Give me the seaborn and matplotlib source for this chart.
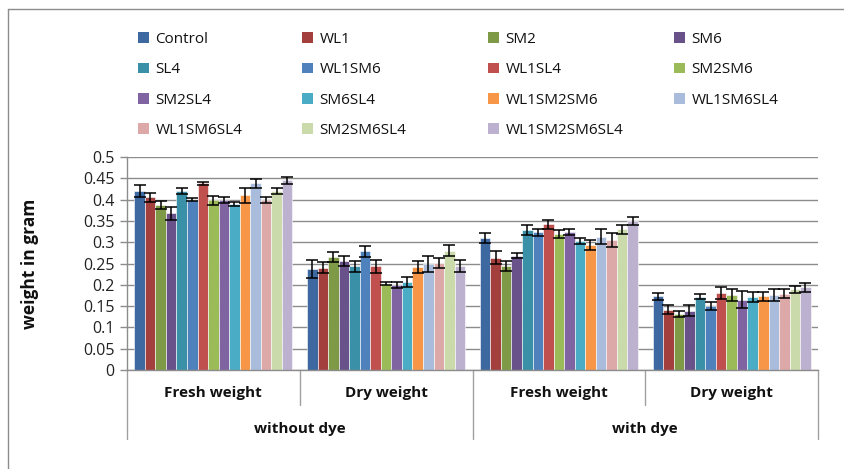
import matplotlib
matplotlib.use("Agg")
import matplotlib.pyplot as plt
from matplotlib.patches import Patch
from matplotlib.lines import Line2D
import seaborn as sns
import pandas as pd
import numpy as np

# ---------------- data ----------------
groups = ["Fresh weight\nwithout dye", "Dry weight\nwithout dye",
          "Fresh weight\nwith dye", "Dry weight\nwith dye"]
sub_labels = ["Fresh weight", "Dry weight", "Fresh weight", "Dry weight"]
outer_labels = ["without dye", "with dye"]

series_labels = ["Control", "WL1", "SM2", "SM6", "SL4", "WL1SM6", "WL1SL4",
                 "SM2SM6", "SM2SL4", "SM6SL4", "WL1SM2SM6", "WL1SM6SL4",
                 "WL1SM6SL4", "SM2SM6SL4", "WL1SM2SM6SL4"]

fresh_without = [0.420, 0.405, 0.388, 0.368, 0.420, 0.400, 0.438, 0.398,
                 0.400, 0.390, 0.410, 0.438, 0.400, 0.420, 0.445]
dry_without = [0.237, 0.240, 0.265, 0.255, 0.244, 0.279, 0.243, 0.203,
               0.200, 0.207, 0.242, 0.249, 0.252, 0.280, 0.244]
fresh_with = [0.309, 0.264, 0.244, 0.268, 0.329, 0.323, 0.342, 0.319,
              0.324, 0.303, 0.293, 0.313, 0.305, 0.330, 0.350]
dry_with = [0.173, 0.142, 0.131, 0.139, 0.172, 0.150, 0.181, 0.176,
            0.165, 0.172, 0.173, 0.176, 0.179, 0.189, 0.194]

err_fresh_without = [0.015, 0.010, 0.009, 0.015, 0.008, 0.003, 0.004, 0.010,
                     0.007, 0.005, 0.017, 0.011, 0.007, 0.008, 0.008]
err_dry_without = [0.021, 0.0125, 0.012, 0.012, 0.013, 0.013, 0.015, 0.004,
                   0.007, 0.011, 0.015, 0.018, 0.012, 0.013, 0.014]
err_fresh_with = [0.012, 0.015, 0.011, 0.006, 0.012, 0.009, 0.010, 0.010,
                  0.0075, 0.007, 0.011, 0.017, 0.017, 0.011, 0.009]
err_dry_with = [0.008, 0.010, 0.007, 0.013, 0.006, 0.010, 0.014, 0.013,
                0.020, 0.012, 0.011, 0.015, 0.011, 0.009, 0.010]

colors = ["#3E69A0", "#A3403D", "#7E9A47", "#69528A", "#3A90A7", "#4F81BD",
          "#C0504D", "#9BBB59", "#8064A2", "#4BACC6", "#F79646", "#A9BCDC",
          "#DCA9A8", "#CADAAB", "#BCB1CF"]

yticks = [0, 0.05, 0.1, 0.15, 0.2, 0.25, 0.3, 0.35, 0.4, 0.45, 0.5]
ytick_labels = ["0", "0.05", "0.1", "0.15", "0.2", "0.25", "0.3", "0.35",
                "0.4", "0.45", "0.5"]

# ---------------- build table ----------------
values = [fresh_without, dry_without, fresh_with, dry_with]
errors = [err_fresh_without, err_dry_without, err_fresh_with, err_dry_with]
keys = [f"s{i:02d}" for i in range(len(series_labels))]
rows = []
for g, vals, errs in zip(groups, values, errors):
    for k, v, e in zip(keys, vals, errs):
        rows.append({"group": g, "key": k, "value": v, "err": e})
df = pd.DataFrame(rows)

# ---------------- plot ----------------
sns.set_style("white")
plt.rcParams["font.family"] = ["Open Sans", "DejaVu Sans"]

W, H = 844, 469
fig = plt.figure(figsize=(W / 100, H / 100), dpi=100)
ax = fig.add_axes([127 / W, 1 - 370 / H, (818 - 127) / W, (370 - 157) / H])

sns.barplot(data=df, x="group", y="value", hue="key", order=groups,
            hue_order=keys, palette=colors, width=0.915, errorbar=None,
            saturation=1, ax=ax, legend=False, linewidth=0.4,
            edgecolor="#ffffff")

# error bars at the bar positions produced by seaborn
for container, k in zip(ax.containers, keys):
    sub = df[df["key"] == k].set_index("group").loc[groups]
    xs = [p.get_x() + p.get_width() / 2 for p in container.patches]
    ax.errorbar(xs, sub["value"].values, yerr=sub["err"].values, fmt="none",
                ecolor="black", elinewidth=1.1, capsize=4.2, capthick=1.1,
                zorder=5)

ax.set_xlim(-0.5, 3.5)
ax.set_ylim(0, 0.5)
ax.set_yticks(yticks)
ax.set_yticklabels(ytick_labels)
ax.yaxis.grid(True, color="#8C8C8C", linewidth=1.0)
ax.set_axisbelow(True)
ax.set_xticks([])
ax.set_xlabel("")
ax.set_ylabel("weight in gram", fontsize=12.5, fontweight="bold",
              color="#111111")
ax.yaxis.set_label_coords(-0.127, 0.5)
ax.tick_params(axis="y", which="both", direction="out", length=5,
               width=1, color="#8C8C8C", labelsize=11.5, labelcolor="#222222",
               pad=4, left=True)
for s in ["top", "right"]:
    ax.spines[s].set_visible(False)
ax.spines["left"].set_color("#8C8C8C")
ax.spines["bottom"].set_color("#8C8C8C")
ax.spines["left"].set_linewidth(1)
ax.spines["bottom"].set_linewidth(1)

# multi-level category axis
trans = ax.get_xaxis_transform()
ax_h = 370 - 157
def ay(py):
    return (370 - py) / ax_h
for xd, long in zip([-0.5, 0.5, 1.5, 2.5, 3.5],
                    [True, False, True, False, True]):
    y_end = ay(439) if long else ay(405)
    ax.add_line(Line2D([xd, xd], [0, y_end], transform=trans,
                       color="#A0A0A0", linewidth=1, clip_on=False))
for i, lab in enumerate(sub_labels):
    ax.text(i, ay(393), lab, transform=trans, ha="center", va="center",
            fontsize=11, fontweight="bold", color="#111111")
for xi, lab in zip([0.5, 2.5], outer_labels):
    ax.text(xi, ay(429), lab, transform=trans, ha="center", va="center",
            fontsize=11, fontweight="bold", color="#111111")

# chart-area border (top and left edges visible)
fig.add_artist(Line2D([8 / W, 8 / W], [0, 1 - 9 / H], transform=fig.transFigure,
                      color="#8C8C8C", linewidth=1))
fig.add_artist(Line2D([8 / W, 1], [1 - 9 / H, 1 - 9 / H],
                      transform=fig.transFigure, color="#8C8C8C", linewidth=1))

# legend: 4 columns, row-wise order
col_x = [138, 302, 488, 674]
handles = [Patch(facecolor=c, edgecolor="none") for c in colors]
for c in range(4):
    idx = [r * 4 + c for r in range(4) if r * 4 + c < len(series_labels)]
    leg = fig.legend([handles[i] for i in idx], [series_labels[i] for i in idx],
                     loc="upper left", bbox_to_anchor=(col_x[c] / W, 1 - 32 / H),
                     frameon=False, fontsize=11, handlelength=0.7,
                     handleheight=0.7, handletextpad=0.45, labelspacing=1.0,
                     borderpad=0, borderaxespad=0)
    for t in leg.get_texts():
        t.set_color("#111111")

fig.savefig("out.png", dpi=100)
